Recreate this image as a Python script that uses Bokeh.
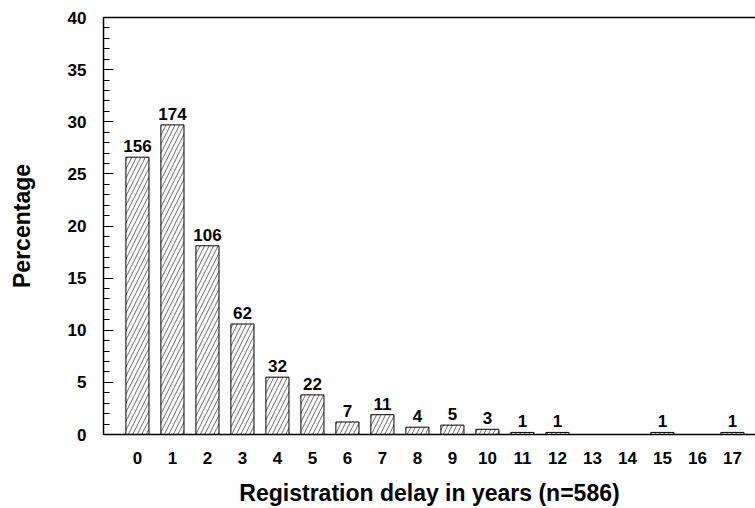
from bokeh.plotting import figure
from bokeh.models import ColumnDataSource, FixedTicker, LinearAxis, Range1d
from bokeh.core.properties import value
from bokeh.embed import file_html
from bokeh.resources import INLINE

years = list(range(18))
percent = [26.6, 29.7, 18.1, 10.6, 5.5, 3.8, 1.2, 1.9, 0.7, 0.9, 0.5, 0.2, 0.2, 0.0, 0.0, 0.2, 0.0, 0.2]
counts = [156, 174, 106, 62, 32, 22, 7, 11, 4, 5, 3, 1, 1, 0, 0, 1, 0, 1]

FONT = "Liberation Sans"

src = ColumnDataSource(dict(x=years, top=percent,
                            label=[str(c) if c > 0 else "" for c in counts]))

p = figure(width=755, height=508, output_backend="svg", toolbar_location=None,
           x_range=Range1d(-0.97, 17.66), y_range=Range1d(0, 40),
           min_border_left=103, min_border_right=0, min_border_top=17, min_border_bottom=73)
p.outline_line_color = None
p.grid.visible = False
p.background_fill_color = "white"

p.vbar(x="x", top="top", width=0.66, source=src, fill_color="white",
       line_color="black", line_width=1,
       hatch_pattern="/", hatch_color="#444444", hatch_scale=9, hatch_weight=0.8)

p.text(x="x", y="top", text="label", source=src, text_align="center",
       text_baseline="bottom", y_offset=-5, text_font=value(FONT),
       text_font_style="bold", text_font_size="17px", text_color="black")

# y axis
ya = p.yaxis[0]
ya.ticker = FixedTicker(ticks=[0, 5, 10, 15, 20, 25, 30, 35, 40],
                        minor_ticks=list(range(0, 41)))
ya.major_tick_in = 10
ya.major_tick_out = 0
ya.minor_tick_in = 6
ya.minor_tick_out = 0
ya.major_tick_line_width = 1
ya.minor_tick_line_width = 1
ya.axis_line_width = 1.5
ya.axis_line_color = "black"
ya.major_tick_line_color = "black"
ya.minor_tick_line_color = "black"
ya.major_label_standoff = 17
ya.major_label_text_font = FONT
ya.major_label_text_font_style = "bold"
ya.major_label_text_font_size = "17px"
ya.major_label_text_color = "black"
ya.axis_label = "Percentage"
ya.axis_label_text_font = FONT
ya.axis_label_text_font_style = "bold"
ya.axis_label_text_font_size = "23px"
ya.axis_label_text_color = "black"
ya.axis_label_standoff = 30

# x axis
xa = p.xaxis[0]
xa.ticker = FixedTicker(ticks=years, minor_ticks=[])
xa.major_tick_in = 0
xa.major_tick_out = 0
xa.minor_tick_in = 0
xa.minor_tick_out = 0
xa.axis_line_width = 1.5
xa.axis_line_color = "black"
xa.major_label_standoff = 17
xa.major_label_text_font = FONT
xa.major_label_text_font_style = "bold"
xa.major_label_text_font_size = "17px"
xa.major_label_text_color = "black"
xa.axis_label = "Registration delay in years (n=586)"
xa.axis_label_text_font = FONT
xa.axis_label_text_font_style = "bold"
xa.axis_label_text_font_size = "23px"
xa.axis_label_text_color = "black"
xa.axis_label_standoff = 13

# top border line
top = LinearAxis(ticker=FixedTicker(ticks=[]), axis_line_width=1.5, axis_line_color="black",
                 major_tick_in=0, major_tick_out=0, minor_tick_in=0, minor_tick_out=0,
                 major_label_text_font_size="0px")
p.add_layout(top, "above")

open("out.html", "w").write(file_html(p, INLINE))
